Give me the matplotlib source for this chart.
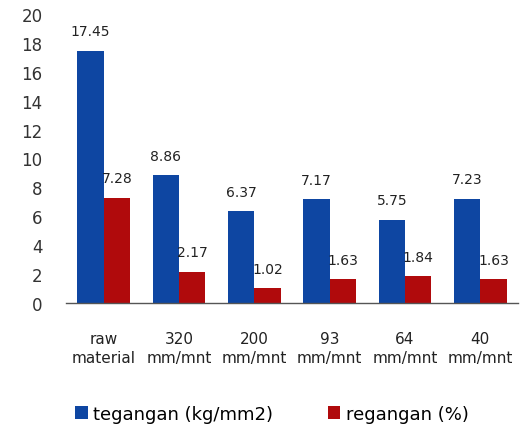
import matplotlib
matplotlib.use("Agg")
import matplotlib.pyplot as plt
import numpy as np

# Data
categories = ["raw\nmaterial", "320\nmm/mnt", "200\nmm/mnt", "93\nmm/mnt", "64\nmm/mnt", "40\nmm/mnt"]
tegangan = [17.45, 8.86, 6.37, 7.17, 5.75, 7.23]
regangan = [7.28, 2.17, 1.02, 1.63, 1.84, 1.63]
series_names = ["tegangan (kg/mm2)", "regangan (%)"]
yticks = list(range(0, 21, 2))

plt.rcParams["font.family"] = ["DejaVu Sans"]

W, H, DPI = 528, 431, 100
fig = plt.figure(figsize=(W / DPI, H / DPI), dpi=DPI)
ax = fig.add_axes([66 / W, 1 - 304 / H, (518 - 66) / W, (304 - 15) / H])

blue = "#0E46A2"
red = "#B00A0C"
x = np.arange(len(categories))
w = 0.35
b1 = ax.bar(x - w / 2, tegangan, w, color=blue, label=series_names[0])
b2 = ax.bar(x + w / 2, regangan, w, color=red, label=series_names[1])

for bars, vals in ((b1, tegangan), (b2, regangan)):
    for rect, v in zip(bars, vals):
        ax.annotate(f"{v:.2f}", (rect.get_x() + rect.get_width() / 2, v),
                    xytext=(0, 14), textcoords="offset points",
                    ha="center", va="center", fontsize=10, color="#222222")

ax.set_xlim(-0.5, len(categories) - 0.5)
ax.set_ylim(0, 20)
ax.set_yticks(yticks)
ax.set_xticks(x)
ax.set_xticklabels(categories, fontsize=11, linespacing=1.35, color="#222222")
ax.tick_params(axis="y", length=0, pad=17, labelsize=12, labelcolor="#333333")
ax.tick_params(axis="x", length=0, pad=20)
for s in ("left", "right", "top"):
    ax.spines[s].set_visible(False)
ax.spines["bottom"].set_color("#555555")
ax.spines["bottom"].set_linewidth(1.0)

fig.legend(handles=[b1, b2], labels=series_names, loc="center",
           bbox_to_anchor=(272 / W, 1 - 415 / H), ncol=2, frameon=False,
           fontsize=13, handlelength=0.7, handleheight=0.7,
           handletextpad=0.3, columnspacing=3.0)

fig.savefig("out.png", dpi=DPI)
